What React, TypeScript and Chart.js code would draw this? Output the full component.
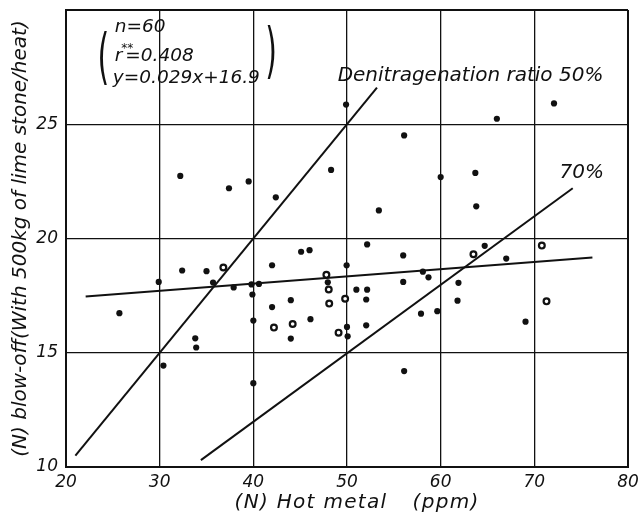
import React, { useEffect, useRef } from "react";
import { Chart, registerables } from "chart.js";

Chart.register(...registerables);

// Filled sample points: [N] hot metal (ppm) vs [N] blow-off
const filledX = [25.7, 29.9, 30.4, 32.2, 32.4, 33.8, 33.9, 35.0, 35.7, 37.4, 37.9, 39.5, 39.8, 40.6, 39.9, 40.0, 40.0, 42.0, 42.4, 42.0, 44.0, 44.0, 45.1, 46.0, 46.1, 47.95, 48.3, 49.96, 50.0, 50.07, 49.9, 51.0, 52.15, 52.05, 52.05, 52.15, 53.4, 56.0, 56.0, 56.1, 56.1, 58.1, 58.7, 57.9, 59.64, 60.0, 61.9, 61.8, 64.7, 63.7, 63.8, 66.0, 67.0, 69.06, 72.1];
const filledY = [16.73, 18.1, 14.44, 22.74, 18.6, 15.63, 15.23, 18.57, 18.07, 22.2, 17.86, 22.5, 17.99, 18.01, 17.55, 16.41, 13.67, 18.83, 21.8, 17.0, 17.3, 15.62, 19.42, 19.49, 16.47, 18.08, 23.0, 18.83, 16.13, 15.72, 25.86, 17.76, 17.76, 17.33, 16.2, 19.74, 21.23, 19.26, 18.1, 14.2, 24.51, 18.55, 18.3, 16.71, 16.82, 22.69, 18.06, 17.28, 19.68, 22.87, 21.41, 25.24, 19.12, 16.36, 25.91];

// Open (ringed) sample points
const openX = [36.8, 42.2, 44.2, 47.8, 48.05, 48.1, 49.1, 49.8, 63.5, 70.8, 71.3];
const openY = [18.73, 16.1, 16.26, 18.41, 17.77, 17.15, 15.88, 17.36, 19.31, 19.69, 17.25];

// Regression line y = 0.029x + 16.9 (as drawn)
const regressionX = [22.1, 76.2];
const regressionY = [17.46, 19.17];

// Denitrogenation ratio lines
const ratio50X = [21.0, 53.2];
const ratio50Y = [10.5, 26.6];
const ratio70X = [34.4, 74.1];
const ratio70Y = [10.3, 22.2];

const xTicks = [20, 30, 40, 50, 60, 70, 80];
const yTicks = [10, 15, 20, 25, 30];
const yTickLabels = ["10", "15", "20", "25", ""];

const FONT = '"DejaVu Sans", "Liberation Sans", sans-serif';

const toPts = (xs: number[], ys: number[]) => xs.map((x, i) => ({ x, y: ys[i] }));

const annotationPlugin = {
  id: "annotations",
  afterDatasetsDraw(chart: any) {
    const { ctx, scales } = chart;
    const xs = scales.x;
    const ys = scales.y;
    const px = (v: number) => xs.getPixelForValue(v);
    const py = (v: number) => ys.getPixelForValue(v);
    ctx.save();
    ctx.fillStyle = "#111";
    ctx.textBaseline = "middle";
    ctx.textAlign = "left";
    ctx.font = `italic 18.5px ${FONT}`;
    ctx.fillText("n=60", px(25.2), py(29.26));
    // r** = 0.408
    const rx = px(25.2);
    const ry = py(27.99);
    ctx.fillText("r", rx, ry);
    const rw = ctx.measureText("r").width;
    ctx.font = `italic 12px ${FONT}`;
    ctx.fillText("**", rx + rw - 1, ry - 7);
    ctx.font = `italic 18.5px ${FONT}`;
    ctx.fillText("=0.408", rx + rw + 3, ry);
    ctx.fillText("y=0.029x+16.9", px(25.0), py(27.03));
    // big parentheses
    const paren = (ch: string, cx: number, cy: number) => {
      ctx.save();
      ctx.translate(cx, cy);
      ctx.scale(1.5, 3.0);
      ctx.textAlign = "center";
      ctx.font = `20px ${FONT}`;
      ctx.fillText(ch, 0, 0);
      ctx.restore();
    };
    paren("(", px(24.0), py(27.75));
    paren(")", px(41.9), py(28.0));
    ctx.font = `italic 20px ${FONT}`;
    ctx.fillText("Denitragenation ratio 50%", px(49.0), py(27.11));
    ctx.fillText("70%", px(72.7), py(22.87));

    // x-axis title (drawn with letter spacing to match the wide lettering)
    ctx.font = `italic 20px ${FONT}`;
    try {
      (ctx as any).letterSpacing = "1.3px";
    } catch (e) {}
    const ty = chart.height - 12;
    ctx.fillText("(N) Hot metal", px(38.0), ty);
    ctx.fillText("(ppm)", px(57.0), ty);
    try {
      (ctx as any).letterSpacing = "0px";
    } catch (e) {}
    ctx.restore();
  },
};

export default function App() {
  const ref = useRef<HTMLCanvasElement | null>(null);
  useEffect(() => {
    if (!ref.current) return;
    const lineDs = (xs: number[], ys: number[]) => ({
      type: "line" as const,
      data: toPts(xs, ys),
      borderColor: "#111",
      borderWidth: 2,
      pointRadius: 0,
      showLine: true,
      fill: false,
    });
    const chart = new Chart(ref.current, {
      type: "scatter",
      data: {
        datasets: [
          lineDs(regressionX, regressionY),
          lineDs(ratio50X, ratio50Y),
          lineDs(ratio70X, ratio70Y),
          {
            data: toPts(filledX, filledY),
            pointRadius: 3.1,
            backgroundColor: "#111",
            borderWidth: 0,
          },
          {
            data: toPts(openX, openY),
            pointRadius: 2.9,
            backgroundColor: "#fff",
            borderColor: "#111",
            borderWidth: 2.2,
          },
        ] as any,
      },
      options: {
        animation: false,
        responsive: false,
        layout: { padding: { left: 0, right: 12, top: 10, bottom: 0 } },
        plugins: { legend: { display: false }, tooltip: { enabled: false } },
        scales: {
          x: {
            type: "linear",
            min: 20,
            max: 80,
            afterBuildTicks: (scale: any) => {
              scale.ticks = xTicks.map((v) => ({ value: v }));
            },
            afterFit: (scale: any) => {
              scale.height = 48;
              scale.paddingLeft = 0;
              scale.paddingRight = 0;
            },
            ticks: {
              color: "#111",
              padding: 5,
              font: { family: FONT, size: 17, style: "italic" },
              callback: (v: any) => String(v),
            },
            grid: {
              color: "#111",
              lineWidth: (c: any) => (c.tick && (c.tick.value === 80 || c.tick.value === 20) ? 2 : 1.3),
              drawTicks: false,
            },
            border: { color: "#111", width: 2 },
            title: { display: false },
          },
          y: {
            type: "linear",
            min: 10,
            max: 30,
            afterBuildTicks: (scale: any) => {
              scale.ticks = yTicks.map((v) => ({ value: v }));
            },
            afterFit: (scale: any) => {
              scale.width = 66;
              scale.paddingTop = 0;
              scale.paddingBottom = 0;
            },
            ticks: {
              color: "#111",
              padding: 8,
              font: { family: FONT, size: 17, style: "italic" },
              callback: (v: any) => yTickLabels[yTicks.indexOf(Number(v))] ?? "",
            },
            grid: {
              color: "#111",
              lineWidth: (c: any) => (c.tick && (c.tick.value === 30 || c.tick.value === 10) ? 2 : 1.3),
              drawTicks: false,
            },
            border: { color: "#111", width: 2 },
            title: {
              display: true,
              text: "(N) blow-off(With 500kg of lime stone/heat)",
              color: "#111",
              font: { family: FONT, size: 20, style: "italic" },
              padding: { top: 9, bottom: 0 },
            },
          },
        },
      } as any,
      plugins: [annotationPlugin],
    });
    return () => chart.destroy();
  }, []);
  return (
    <div style={{ position: "fixed", left: 0, top: 0, width: 640, height: 515, background: "#fff" }}>
      <canvas ref={ref} width={640} height={515} style={{ display: "block" }} />
    </div>
  );
}
